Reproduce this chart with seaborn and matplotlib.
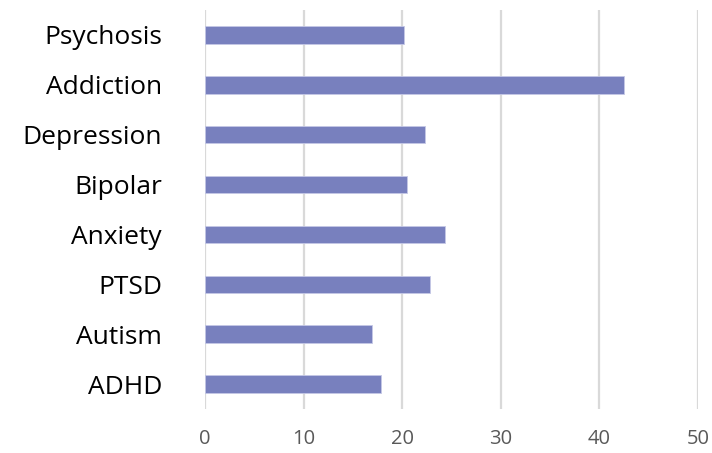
import pandas as pd
import matplotlib.pyplot as plt
import seaborn as sns

# === Data ===
categories = ["Psychosis", "Addiction", "Depression", "Bipolar", "Anxiety", "PTSD", "Autism", "ADHD"]
values = [20.2, 42.5, 22.3, 20.5, 24.3, 22.8, 16.9, 17.9]
x_ticks = [0, 10, 20, 30, 40, 50]

df = pd.DataFrame({"category": categories, "value": values})

# === Style ===
sns.set_style("white")
plt.rcParams["font.family"] = ["Open Sans", "DejaVu Sans"]

fig = plt.figure(figsize=(7.12, 4.53), dpi=100)
ax = fig.add_axes([0.288, 0.097, 0.692, 0.881])

sns.barplot(data=df, x="value", y="category", orient="h", color="#7880BE",
            width=0.35, saturation=1, edgecolor="#C5C8E6", linewidth=0.6, ax=ax)

ax.set_xlim(0, 50)
ax.set_xticks(x_ticks)
ax.set_ylim(7.5, -0.5)
ax.grid(axis="x", color="#D9D9D9", linewidth=1.6)
ax.set_axisbelow(True)
for s in ax.spines.values():
    s.set_visible(False)

ax.set_xlabel("")
ax.set_ylabel("")
ax.tick_params(axis="x", length=0, pad=14, labelsize=14.5, labelcolor="#595959")
ax.tick_params(axis="y", length=0, pad=31, labelsize=19, labelcolor="#000000")

plt.savefig("out.png", dpi=100)
plt.close()
